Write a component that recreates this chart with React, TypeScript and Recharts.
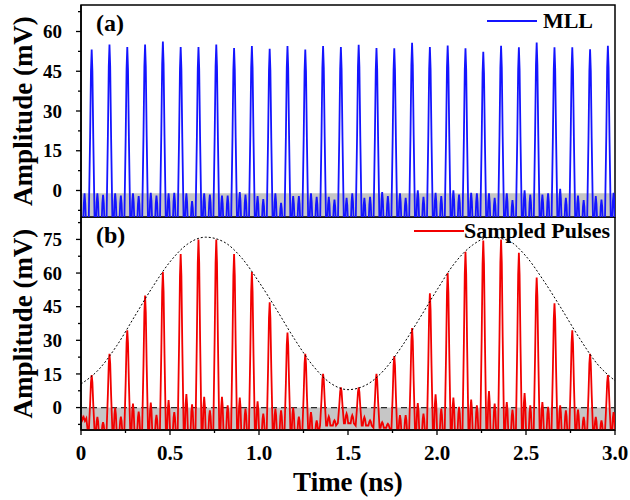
import React from "react";
import { LineChart, Line, XAxis, YAxis, ReferenceArea, ReferenceLine, Legend } from "recharts";

const FONT = '"Liberation Serif", "Times New Roman", serif';

// pulse clock (ns), shared by both traces
const PULSE_TIMES = [
  0.06, 0.16, 0.26, 0.36, 0.46, 0.56, 0.66, 0.76, 0.86, 0.96,
  1.06, 1.16, 1.26, 1.36, 1.46, 1.56, 1.66, 1.76, 1.86, 1.96,
  2.06, 2.16, 2.26, 2.36, 2.46, 2.56, 2.66, 2.76, 2.86, 2.96,
];

// (a) MLL pulse train
const MLL_PEAKS = [
  53.2, 55.1, 54.1, 55.1, 56.2, 54.1, 54.1, 55.1, 53.8, 54.5,
  53.5, 54.5, 53.2, 54.5, 54.1, 55.0, 53.8, 53.7, 55.7, 54.1,
  54.7, 53.7, 52.3, 54.6, 54.0, 55.8, 54.0, 54.0, 53.3, 54.6,
];
const MLL_BUMP_A = [
  -1.1, -1.1, -1.1, -0.9, -1.1, -1.1, -1.1, -1.9, -0.6, -2.1,
  -1.1, -2.1, -1.1, -2.4, -2.8, -2.8, -0.6, -1.1, 0.1, -0.9,
  0.1, -0.9, -1.1, -1.1, 0.1, -1.5, 0.6, -1.9, -2.1, -0.9,
];
const MLL_BUMP_B = [
  -1.6, -1.9, -2.1, -1.9, -0.9, -4.0, -1.5, -1.9, -1.5, -3.2,
  -4.7, -2.1, -2.4, -3.4, -1.1, -2.4, -2.1, -2.8, -2.4, -2.1,
  -1.5, -1.1, -2.8, -3.6, -1.5, -1.1, -2.8, -3.6, -3.4, -1.1,
];
const MLL_LEAD: [number, number][] = [
  [0, -14], [0.011, -14], [0.016, -5], [0.02, -1.1], [0.024, -5], [0.029, -14],
];

// (b) sampled pulses
const SAMPLED_PEAKS = [
  14.5, 24, 34.5, 50, 60.5, 68.5, 75, 75, 68.5, 60.5,
  47, 33.5, 24, 15, 9, 9, 15, 23, 35.5, 51,
  60, 69.5, 74.5, 75, 69, 58, 46.5, 34.5, 24, 14.5,
];
const SAMPLED_BUMP_A = [
  -4.2, 0, 1.8, 2.2, 3.3, 6, 4.8, 4.8, 4.5, 2.8,
  -0.5, 0, -2, -4, -2.7, -4.2, -6.5, -3.4, 2, 5.9,
  4.5, 3.6, 7.4, 2.5, 6.5, 2.5, 1, -0.9, -4.2, -2,
];
const SAMPLED_BUMP_B = [
  -6.5, -4, -1.8, -3.3, -2, 1.5, -1.2, 1, -0.5, -2.7,
  -1.2, -4, -5.7, -5.7, -3.4, -5.7, -7.2, -3.4, -2.7, -0.5,
  0.3, 1, 1.8, -0.9, 1, 0.3, -1.2, -4.2, -5.7, -3,
];
const SAMPLED_FLOOR = [
  -12, -12, -12, -12, -12, -12, -12, -12, -12, -12,
  -12, -12, -12, -8, -7, -8, -9, -12, -12, -12,
  -12, -12, -12, -12, -12, -12, -12, -12, -12, -12,
];
const SAMPLED_LEAD: [number, number][] = [
  [0, -3], [0.008, -5.5], [0.015, -4.2], [0.022, -6], [0.03, -4.8], [0.04, -12],
];

// dotted envelope
const ENV_TIMES = [
  0, 0.1, 0.2, 0.3, 0.4, 0.5, 0.6, 0.7, 0.8, 0.9, 1.0,
  1.1, 1.2, 1.3, 1.4, 1.5, 1.6, 1.7, 1.8, 1.9, 2.0,
  2.1, 2.2, 2.3, 2.4, 2.5, 2.6, 2.7, 2.8, 2.9, 3.0,
];
const ENV_VALUES = [
  10.5, 17, 27.5, 40.5, 53.5, 65, 73, 76, 74, 67, 56,
  43.5, 30.5, 19, 11, 8, 10, 16.5, 27, 39.5, 52.5,
  64.5, 72.5, 76, 74.5, 67.5, 56.5, 44, 31, 19.5, 12,
];

const X_TICKS = [0, 0.25, 0.5, 0.75, 1, 1.25, 1.5, 1.75, 2, 2.25, 2.5, 2.75, 3];
const Y_TICKS_A = [-7.5, 0, 7.5, 15, 22.5, 30, 37.5, 45, 52.5, 60, 67.5];
const Y_TICKS_B = [-7.5, 0, 7.5, 15, 22.5, 30, 37.5, 45, 52.5, 60, 67.5, 75, 82.5];

// relative shape of one pulse / one ringing bump: [dt, fraction of height]
const PULSE_SHAPE = [[-0.017, 0], [-0.009, 0.5], [-0.004, 0.88], [0, 1], [0.004, 0.88], [0.009, 0.5], [0.017, 0]];
const BUMP_SHAPE = [[-0.009, 0], [-0.004, 0.75], [0, 1], [0.004, 0.75], [0.009, 0]];

function buildTrace(
  lead: [number, number][],
  peaks: number[],
  bumpA: number[],
  bumpB: number[],
  floors: number[] | number,
) {
  const pts = lead.map(([t, v]) => ({ t, v }));
  PULSE_TIMES.forEach((t0, k) => {
    const f = Array.isArray(floors) ? floors[k] : floors;
    for (const [dt, w] of PULSE_SHAPE) pts.push({ t: t0 + dt, v: f + w * (peaks[k] - f) });
    const bumps: [number, number][] = [[0.032, bumpA[k]], [0.064, bumpB[k]]];
    for (const [off, amp] of bumps) {
      for (const [dt, w] of BUMP_SHAPE) pts.push({ t: t0 + off + dt, v: f + w * (amp - f) });
    }
  });
  return pts.sort((a, b) => a.t - b.t);
}

const mllTrace = buildTrace(MLL_LEAD, MLL_PEAKS, MLL_BUMP_A, MLL_BUMP_B, -14);
const sampledTrace = buildTrace(SAMPLED_LEAD, SAMPLED_PEAKS, SAMPLED_BUMP_A, SAMPLED_BUMP_B, SAMPLED_FLOOR);
const envelope = ENV_TIMES.map((t, i) => ({ t, v: ENV_VALUES[i] }));

const textProps = { fontFamily: FONT, fontWeight: "bold", fill: "#000" };

function YTick(props: any) {
  const { x, y, payload } = props;
  const v = payload.value;
  const major = v % 15 === 0;
  const ax = x + 19; // tickSize 5 + tickMargin 14
  return (
    <g>
      <line x1={ax - (major ? 5 : 3)} x2={ax} y1={y} y2={y} stroke="#000" strokeWidth={1.3} />
      {major && (
        <text x={x} y={y} dy="0.35em" textAnchor="end" fontSize={19} {...textProps}>
          {v}
        </text>
      )}
    </g>
  );
}

function XTick(props: any) {
  const { x, y, payload } = props;
  const v = payload.value;
  const major = Math.abs(v * 2 - Math.round(v * 2)) < 1e-6;
  const ay = y - 15; // tickSize 5 + tickMargin 10
  return (
    <g>
      <line x1={x} x2={x} y1={ay} y2={ay + (major ? 5 : 3)} stroke="#000" strokeWidth={1.3} />
      {major && (
        <text x={x} y={y} dy="0.71em" textAnchor="middle" fontSize={21} {...textProps}>
          {v === 0 ? "0" : v.toFixed(1)}
        </text>
      )}
    </g>
  );
}

function PanelTag(props: any) {
  const { viewBox, text } = props;
  if (!viewBox) return null;
  return (
    <text x={viewBox.x + 15} y={viewBox.y + 26} fontSize={24} {...textProps}>
      {text}
    </text>
  );
}

function LegendBox(props: any) {
  const items = (props.payload || []).filter((p: any) => p.type !== "none");
  return (
    <div style={{ display: "flex", flexDirection: "column", alignItems: "flex-end" }}>
      {items.map((p: any) => (
        <div key={p.value} style={{ display: "flex", alignItems: "center", gap: props.gap }}>
          <svg width={50} height={6}>
            <line x1={0} y1={3} x2={50} y2={3} stroke={p.color} strokeWidth={2} />
          </svg>
          <span style={{ fontFamily: FONT, fontWeight: "bold", fontSize: 22, color: "#000", lineHeight: "25px" }}>
            {p.value}
          </span>
        </div>
      ))}
    </div>
  );
}

const yLabel = {
  value: "Amplitude (mV)",
  angle: -90,
  position: "center" as const,
  dx: -18,
  fontSize: 27,
  ...textProps,
};

export default function App() {
  return (
    <div style={{ position: "absolute", left: 0, top: 0, width: 630, height: 500, background: "#fff" }}>
      <div style={{ position: "absolute", left: 0, top: 0 }}>
        <LineChart width={630} height={218} margin={{ top: 5, right: 15, bottom: 1, left: 0 }}>
          <XAxis type="number" dataKey="t" domain={[0, 3]} allowDataOverflow hide />
          <YAxis
            type="number"
            domain={[-10, 70]}
            ticks={Y_TICKS_A}
            interval={0}
            allowDataOverflow
            width={81}
            tickLine={false}
            tickSize={5}
            tickMargin={14}
            axisLine={{ stroke: "#000", strokeWidth: 1.5 }}
            tick={<YTick />}
            label={yLabel}
          />
          <ReferenceArea x1={0} x2={3} y1={-10} y2={-1} fill="#c6c6c6" fillOpacity={1} stroke="none" />
          <Line
            data={mllTrace}
            dataKey="v"
            name="MLL"
            type="linear"
            stroke="#1414ff"
            strokeWidth={1.8}
            dot={false}
            isAnimationActive={false}
          />
          <ReferenceArea
            x1={0}
            x2={3}
            y1={-10}
            y2={70}
            fill="none"
            stroke="#000"
            strokeWidth={1.5}
            label={<PanelTag text="(a)" />}
          />
          <Legend
            layout="horizontal"
            verticalAlign="middle"
            align="center"
            wrapperStyle={{ top: 8, right: 37, left: "auto", width: "auto" }}
            content={(p: any) => <LegendBox {...p} gap={6} />}
          />
        </LineChart>
      </div>
      <div style={{ position: "absolute", left: 0, top: 217 }}>
        <LineChart width={630} height={283} margin={{ top: 0, right: 15, bottom: 0, left: 0 }}>
          <XAxis
            type="number"
            dataKey="t"
            domain={[0, 3]}
            ticks={X_TICKS}
            interval={0}
            allowDataOverflow
            height={70}
            tickLine={false}
            tickSize={5}
            tickMargin={10}
            axisLine={{ stroke: "#000", strokeWidth: 1.5 }}
            tick={<XTick />}
            label={{ value: "Time (ns)", position: "insideBottom", offset: 9, fontSize: 27, ...textProps }}
          />
          <YAxis
            type="number"
            domain={[-10, 85]}
            ticks={Y_TICKS_B}
            interval={0}
            allowDataOverflow
            width={81}
            tickLine={false}
            tickSize={5}
            tickMargin={14}
            axisLine={{ stroke: "#000", strokeWidth: 1.5 }}
            tick={<YTick />}
            label={yLabel}
          />
          <ReferenceArea x1={0} x2={3} y1={-10} y2={0} fill="#c6c6c6" fillOpacity={1} stroke="none" />
          <ReferenceLine y={0} stroke="#2a2a2a" strokeWidth={1.2} strokeDasharray="6 4" />
          <Line
            data={sampledTrace}
            dataKey="v"
            name="Sampled Pulses"
            type="linear"
            stroke="#f20000"
            strokeWidth={1.8}
            dot={false}
            isAnimationActive={false}
          />
          <Line
            data={envelope}
            dataKey="v"
            name="envelope"
            type="monotone"
            stroke="#000"
            strokeWidth={1}
            strokeDasharray="2 2"
            dot={false}
            legendType="none"
            isAnimationActive={false}
          />
          <ReferenceArea
            x1={0}
            x2={3}
            y1={-10}
            y2={85}
            fill="none"
            stroke="#000"
            strokeWidth={1.5}
            label={<PanelTag text="(b)" />}
          />
          <Legend
            layout="horizontal"
            verticalAlign="middle"
            align="center"
            wrapperStyle={{ top: 1, right: 20, left: "auto", width: "auto" }}
            content={(p: any) => <LegendBox {...p} gap={0} />}
          />
        </LineChart>
      </div>
    </div>
  );
}
